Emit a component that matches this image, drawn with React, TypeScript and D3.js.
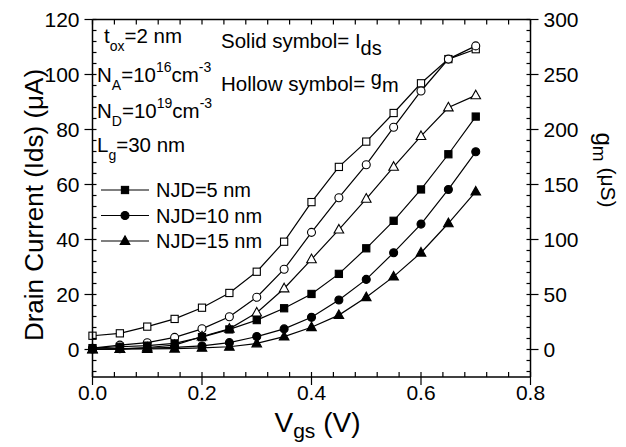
import React from 'react';
import * as d3 from 'd3';

const vgs = [0, 0.05, 0.1, 0.15, 0.2, 0.25, 0.3, 0.35, 0.4, 0.45, 0.5, 0.55, 0.6, 0.65, 0.7];
// Drain current (µA), solid symbols, left axis
const idsNJD5 = [0.5, 1.0, 1.4, 2.2, 4.5, 7.3, 10.7, 15.0, 20.2, 27.5, 36.8, 46.8, 58.2, 71.0, 84.7];
const idsNJD10 = [0.2, 0.3, 0.5, 0.8, 1.3, 2.5, 4.7, 7.5, 11.7, 18.0, 25.5, 35.2, 45.6, 58.2, 71.9];
const idsNJD15 = [0.1, 0.15, 0.2, 0.3, 0.6, 1.0, 2.2, 4.7, 8.1, 12.5, 19.0, 26.5, 35.2, 45.9, 57.4];
// Transconductance (µS), hollow symbols, right axis
const gmNJD5 = [12.5, 14.7, 20.8, 27.8, 38, 51.4, 70.7, 98, 134, 166, 189, 215, 242, 264, 273];
const gmNJD10 = [1.2, 4, 6.2, 11, 18.8, 29.8, 47.5, 73, 106.5, 138, 168, 202, 235, 264, 276];
const gmNJD15 = [0, 0.3, 1.8, 4, 11.8, 18.8, 33.5, 55.5, 82, 109, 137, 166, 194, 220, 231];

const xTicks = [0, 0.2, 0.4, 0.6, 0.8];
const yLeftTicks = [0, 20, 40, 60, 80, 100, 120];
const yRightTicks = [0, 50, 100, 150, 200, 250, 300];
const legendLabels = ['NJD=5 nm', 'NJD=10 nm', 'NJD=15 nm'];
const shapes = ['square', 'circle', 'triangle'];

const W = 626, H = 447;
const L = 92.5, R = 530.5, T = 19.5, B = 377;
const FONT = 'Liberation Sans, Arial, Helvetica, sans-serif';

const x = d3.scaleLinear().domain([0, 0.8]).range([L, R]);
const yL = d3.scaleLinear().domain([-10, 120]).range([B, T]);
const yR = d3.scaleLinear().domain([-25, 300]).range([B, T]);

function Marker({ shape, cx, cy, filled }: { shape: string; cx: number; cy: number; filled: boolean }) {
  const fill = filled ? '#000' : '#fff';
  if (shape === 'square') {
    return <rect x={cx - 3.6} y={cy - 3.6} width={7.2} height={7.2} fill={fill} stroke="#000" strokeWidth={1.1} />;
  }
  if (shape === 'circle') {
    return <circle cx={cx} cy={cy} r={4} fill={fill} stroke="#000" strokeWidth={1.1} />;
  }
  const pts = [[cx, cy - 5.2], [cx + 4.8, cy + 3.4], [cx - 4.8, cy + 3.4]].map(p => p.join(',')).join(' ');
  return <polygon points={pts} fill={fill} stroke="#000" strokeWidth={1.1} strokeLinejoin="miter" />;
}

function Series({ values, scale, shape, filled }: { values: number[]; scale: d3.ScaleLinear<number, number>; shape: string; filled: boolean }) {
  const line = d3.line<number>().x((_, i) => x(vgs[i])).y(v => scale(v));
  return (
    <g>
      <path d={line(values) || ''} fill="none" stroke="#000" strokeWidth={1.2} />
      {values.map((v, i) => (
        <Marker key={i} shape={shape} cx={x(vgs[i])} cy={scale(v)} filled={filled} />
      ))}
    </g>
  );
}

export default function App() {
  const xMinor = d3.range(0, 0.8001, 0.04);
  const yLMinor = d3.range(-8, 120.001, 4);
  const yRMinor = d3.range(-20, 300.001, 10);
  const idsSeries = [idsNJD5, idsNJD10, idsNJD15];
  const gmSeries = [gmNJD5, gmNJD10, gmNJD15];
  return (
    <svg width={W} height={H} style={{ position: 'absolute', left: 0, top: 0, background: '#fff' }} fontFamily={FONT}>
      <rect x={0} y={0} width={W} height={H} fill="#fff" />
      {gmSeries.map((s, k) => (
        <Series key={'g' + k} values={s} scale={yR} shape={shapes[k]} filled={false} />
      ))}
      {idsSeries.map((s, k) => (
        <Series key={'i' + k} values={s} scale={yL} shape={shapes[k]} filled={true} />
      ))}

      <g stroke="#000" strokeWidth={1.5} fill="none">
        <line x1={L} y1={T} x2={R} y2={T} />
        <line x1={L} y1={B} x2={R} y2={B} />
        <line x1={L} y1={T} x2={L} y2={B} />
        <line x1={R} y1={T} x2={R} y2={B} />
      </g>

      <g stroke="#000" strokeWidth={1.2}>
        {xMinor.map((v, i) => (
          <g key={i}>
            <line x1={x(v)} x2={x(v)} y1={B} y2={B - 5} />
            <line x1={x(v)} x2={x(v)} y1={T} y2={T + 5} />
          </g>
        ))}
        {xTicks.map((v, i) => (
          <line key={'M' + i} x1={x(v)} x2={x(v)} y1={B} y2={B + 8} />
        ))}
      </g>
      {xTicks.map((v, i) => (
        <text key={i} x={x(v)} y={B + 23} fontSize={21} textAnchor="middle">{v.toFixed(1)}</text>
      ))}

      <g stroke="#000" strokeWidth={1.2}>
        {yLMinor.map((v, i) => (
          <line key={i} x1={L} x2={L + 4} y1={yL(v)} y2={yL(v)} />
        ))}
        {yLeftTicks.map((v, i) => (
          <line key={'M' + i} x1={L - 8} x2={L} y1={yL(v)} y2={yL(v)} />
        ))}
      </g>
      {yLeftTicks.map((v, i) => (
        <text key={i} x={L - 13} y={yL(v) + 7.5} fontSize={21} textAnchor="end">{v}</text>
      ))}

      <g stroke="#000" strokeWidth={1.2}>
        {yRMinor.map((v, i) => (
          <line key={i} x1={R - 4} x2={R} y1={yR(v)} y2={yR(v)} />
        ))}
        {yRightTicks.map((v, i) => (
          <line key={'M' + i} x1={R} x2={R + 8} y1={yR(v)} y2={yR(v)} />
        ))}
      </g>
      {yRightTicks.map((v, i) => (
        <text key={i} x={R + 13} y={yR(v) + 7.5} fontSize={21} textAnchor="start">{v}</text>
      ))}

      <text x={x(0.4) + 6} y={432} fontSize={28} textAnchor="middle">
        V<tspan fontSize={21} dy={6}>gs</tspan><tspan dy={-6}> (V)</tspan>
      </text>
      <text transform={`translate(43,205) rotate(-90)`} fontSize={26} textAnchor="middle">
        Drain Current (Ids) (μA)
      </text>
      <text transform={`translate(596,170) rotate(90)`} fontSize={24} textAnchor="middle">
        <tspan>g</tspan><tspan fontSize={19} dy={3}>m</tspan><tspan fontSize={21} dy={-8}> (μS)</tspan>
      </text>

      <g fontSize={20.5}>
        <text x={104} y={43}>t<tspan fontSize={14} dy={8}>ox</tspan><tspan dy={-8}>=2 nm</tspan></text>
        <text x={97} y={82}>N<tspan fontSize={14} dy={8}>A</tspan><tspan dy={-8}>=10</tspan><tspan fontSize={14} dy={-10}>16</tspan><tspan dy={10}>cm</tspan><tspan fontSize={14} dy={-10}>-3</tspan></text>
        <text x={97} y={118}>N<tspan fontSize={14} dy={8}>D</tspan><tspan dy={-8}>=10</tspan><tspan fontSize={14} dy={-10}>19</tspan><tspan dy={10}>cm</tspan><tspan fontSize={14} dy={-10}>-3</tspan></text>
        <text x={97} y={152}>L<tspan fontSize={14} dy={8}>g</tspan><tspan dy={-8}>=30 nm</tspan></text>
        <text x={221} y={48}>Solid symbol= I<tspan fontSize={20} dy={7}>ds</tspan></text>
        <text x={221} y={91}>Hollow symbol= <tspan fontSize={20} dy={-6}>g</tspan><tspan fontSize={20} dy={7}>m</tspan></text>
      </g>

      {legendLabels.map((lab, k) => {
        const ly = 190 + k * 25.5;
        return (
          <g key={k}>
            <line x1={101} x2={149} y1={ly} y2={ly} stroke="#000" strokeWidth={1.2} />
            <Marker shape={shapes[k]} cx={125} cy={ly} filled={true} />
            <text x={156} y={ly + 7} fontSize={20}>{lab}</text>
          </g>
        );
      })}
    </svg>
  );
}
